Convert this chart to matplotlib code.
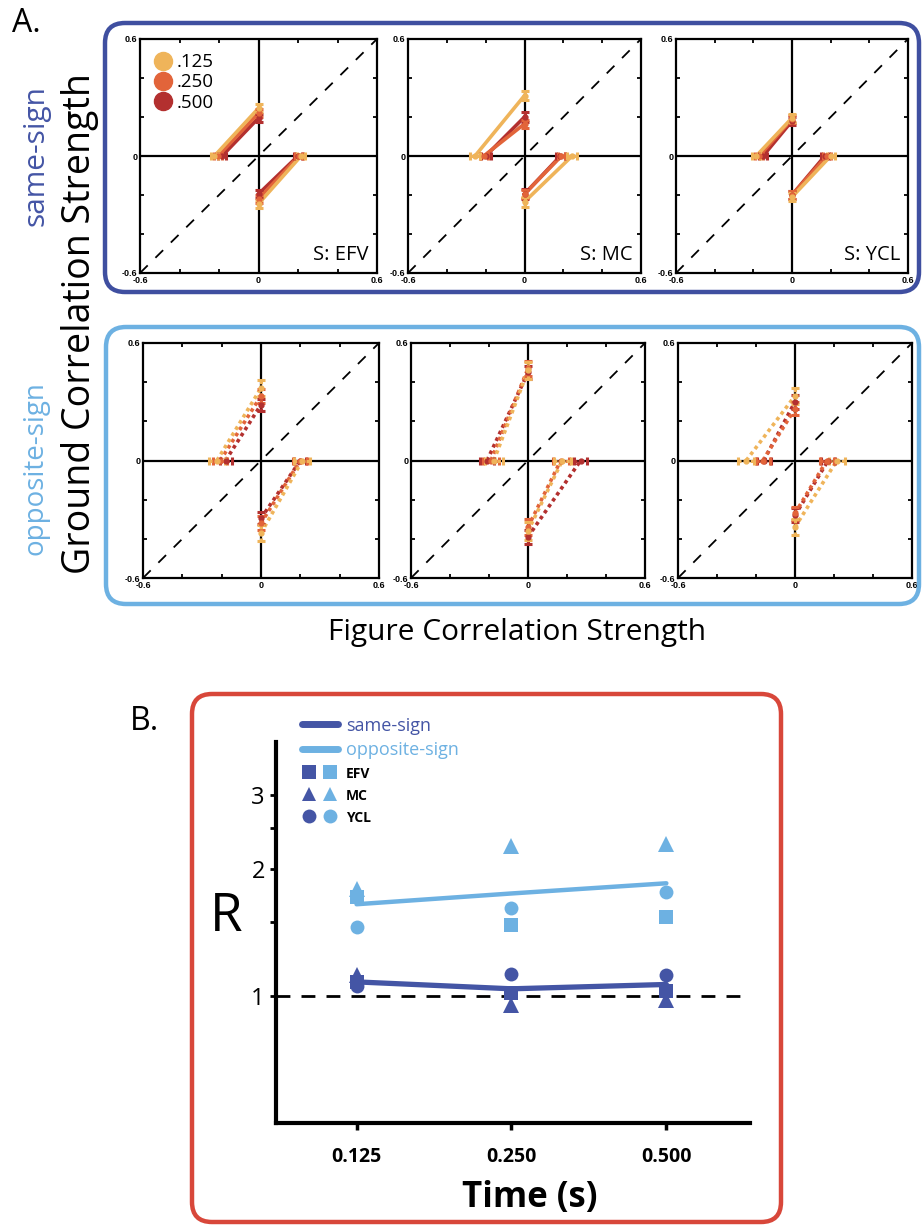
import matplotlib
matplotlib.use("Agg")
import matplotlib.pyplot as plt
from matplotlib.patches import FancyBboxPatch
from matplotlib.lines import Line2D
from matplotlib.legend_handler import HandlerTuple
from matplotlib.ticker import FixedLocator, NullFormatter

# ---------------- data ----------------
subjects = ["EFV", "MC", "YCL"]
durations = [".125", ".250", ".500"]
duration_colors = ["#EFB45A", "#E2643A", "#B3302F"]

# rows: subject, columns: duration
same_left = [[-0.223, -0.205, -0.185], [-0.255, -0.21, -0.20], [-0.185, -0.17, -0.15]]
same_top = [[0.245, 0.22, 0.195], [0.31, 0.165, 0.20], [0.195, 0.19, 0.18]]
same_right = [[0.215, 0.205, 0.20], [0.245, 0.19, 0.185], [0.20, 0.18, 0.17]]
same_bottom = [[-0.245, -0.22, -0.195], [-0.235, -0.195, -0.195], [-0.21, -0.20, -0.20]]
same_err = [[0.02, 0.02, 0.02], [0.025, 0.02, 0.025], [0.02, 0.02, 0.02]]

opp_left = [[-0.224, -0.207, -0.18], [-0.175, -0.19, -0.21], [-0.25, -0.165, -0.16]]
opp_top = [[0.37, 0.33, 0.285], [0.46, 0.47, 0.45], [0.33, 0.265, 0.30]]
opp_right = [[0.21, 0.20, 0.20], [0.176, 0.168, 0.27], [0.215, 0.163, 0.17]]
opp_bottom = [[-0.37, -0.32, -0.295], [-0.36, -0.34, -0.39], [-0.34, -0.27, -0.28]]
opp_err = [[0.04, 0.035, 0.03], [0.045, 0.04, 0.035], [0.04, 0.035, 0.035]]

times = ["0.125", "0.250", "0.500"]
same_R = {"EFV": [1.08, 1.016, 1.03], "MC": [1.12, 0.953, 0.98], "YCL": [1.055, 1.13, 1.12]}
opp_R = {"EFV": [1.72, 1.47, 1.54], "MC": [1.79, 2.27, 2.29], "YCL": [1.46, 1.62, 1.76]}
same_R_mean = [1.08, 1.04, 1.065]
opp_R_mean = [1.65, 1.75, 1.85]
subject_markers = {"EFV": "s", "MC": "^", "YCL": "o"}

DARK_BLUE = "#4455A5"
LIGHT_BLUE = "#6DB1E2"
RED = "#D8473A"

W, H = 923, 1226
fig = plt.figure(figsize=(W / 100, H / 100), dpi=100)
fig.patch.set_facecolor("white")


def rect(x0, y0, x1, y1):
    """pixel box (top-left origin) -> figure fraction rectangle"""
    return [x0 / W, 1 - y1 / H, (x1 - x0) / W, (y1 - y0) / H]


def fx(x):
    return x / W


def fy(y):
    return 1 - y / H


def frame(x0, y0, x1, y1, color, lw=3.2, r=0.2):
    p = FancyBboxPatch(((x0) / 100, (H - y1) / 100), (x1 - x0) / 100, (y1 - y0) / 100,
                       boxstyle=f"round,pad=0,rounding_size={r}", transform=fig.dpi_scale_trans,
                       facecolor="none", edgecolor=color, linewidth=lw, zorder=0)
    fig.patches.append(p)


frame(105, 23, 919, 292, "#3F4FA0")
frame(106, 327, 919, 604, LIGHT_BLUE)
frame(192, 694, 781, 1222, RED)

tick_vals = [-0.6, -0.4, -0.2, 0, 0.2, 0.4, 0.6]
tick_labs = ["-0.6", "", "", "0", "", "", "0.6"]


def corr_panel(ax, left, top, right, bottom, err, dotted):
    ax.set_xlim(-0.6, 0.6)
    ax.set_ylim(-0.6, 0.6)
    ax.axhline(0, color="black", lw=1.6, zorder=1)
    ax.axvline(0, color="black", lw=1.6, zorder=1)
    ax.axline((0, 0), slope=1, color="black", lw=1.3, ls=(0, (6, 6)), zorder=1)
    ls = (0, (1, 1)) if dotted else "-"
    for i in reversed(range(3)):
        c = duration_colors[i]
        ax.plot([left[i], 0], [0, top[i]], color=c, lw=2.6, ls=ls, zorder=2)
        ax.plot([0, right[i]], [bottom[i], 0], color=c, lw=2.6, ls=ls, zorder=2)
        for xs, ys, kw in (([left[i], right[i]], [0, 0], {"xerr": err[i]}),
                           ([0, 0], [top[i], bottom[i]], {"yerr": err[i]})):
            eb = ax.errorbar(xs, ys, fmt="o", ms=3.5, color=c, ecolor=c, elinewidth=2.2,
                             capsize=3, capthick=2.2, zorder=3, **kw)
            if dotted:
                for bl in eb[2]:
                    bl.set_linestyle((0, (1, 1)))
    ax.set_xticks(tick_vals)
    ax.set_xticklabels(tick_labs)
    ax.set_yticks(tick_vals)
    ax.set_yticklabels(tick_labs)
    ax.tick_params(direction="in", top=True, right=True, length=3, width=1.3, pad=2,
                   labelsize=6.5)
    for lab in ax.get_xticklabels() + ax.get_yticklabels():
        lab.set_fontweight("bold")
        lab.set_family("Liberation Sans")
    for s in ax.spines.values():
        s.set_linewidth(1.6)


top_boxes = [(140, 39, 377, 273), (408, 39, 641, 273), (676, 39, 908, 273)]
bot_boxes = [(143, 343, 379, 578), (411, 343, 645, 578), (678, 343, 912, 578)]

for k, subj in enumerate(subjects):
    ax = fig.add_axes(rect(*top_boxes[k]))
    corr_panel(ax, same_left[k], same_top[k], same_right[k], same_bottom[k], same_err[k], False)
    ax.text(0.965, 0.035, f"S: {subj}", transform=ax.transAxes, ha="right", va="bottom",
            fontsize=14.5, family="Open Sans")
    if k == 0:
        handles = [Line2D([], [], ls="none", marker="o", ms=13, color=c) for c in duration_colors]
        ax.legend(handles, durations, loc="upper left", frameon=False,
                  handlelength=0.9, handletextpad=0.3, labelspacing=0.12,
                  borderaxespad=0.45, borderpad=0.3, prop={"family": "Open Sans", "size": 13.5})

    ax2 = fig.add_axes(rect(*bot_boxes[k]))
    corr_panel(ax2, opp_left[k], opp_top[k], opp_right[k], opp_bottom[k], opp_err[k], True)

# panel A labels
fig.text(fx(12), fy(24), "A.", fontsize=23, family="Open Sans", va="center", ha="left")
fig.text(fx(36), fy(155), "same-sign", rotation=90, fontsize=21.5, color="#4455A5",
         family="Open Sans", ha="center", va="center")
fig.text(fx(36), fy(468), "opposite-sign", rotation=90, fontsize=20, color=LIGHT_BLUE,
         family="Open Sans", ha="center", va="center")
fig.text(fx(80), fy(324), "Ground Correlation Strength", rotation=90, fontsize=27,
         family="Open Sans", ha="center", va="center", rotation_mode="anchor")
fig.text(fx(517), fy(633), "Figure Correlation Strength", fontsize=21.5,
         family="Open Sans", ha="center", va="center")

# ---------------- panel B ----------------
fig.text(fx(130), fy(722), "B.", fontsize=23, family="Open Sans", va="center", ha="left")
axb = fig.add_axes(rect(276, 742, 750, 1123))
xpos = [1, 2, 3]
axb.axhline(1, color="black", lw=2, ls=(0, (5, 4)), zorder=1)
axb.plot(xpos, opp_R_mean, color=LIGHT_BLUE, lw=3.2, zorder=2, solid_capstyle="round")
axb.plot(xpos, same_R_mean, color=DARK_BLUE, lw=3.8, zorder=2, solid_capstyle="round")
for subj in subjects:
    m = subject_markers[subj]
    ms = 11 if m == "^" else 10
    axb.plot(xpos, opp_R[subj], ls="none", marker=m, ms=ms, color=LIGHT_BLUE, mew=0, zorder=3)
    axb.plot(xpos, same_R[subj], ls="none", marker=m, ms=ms, color=DARK_BLUE, mew=0, zorder=3)

axb.set_yscale("log")
axb.set_ylim(0.5, 4)
axb.set_xlim(0.48, 3.54)
axb.yaxis.set_major_locator(FixedLocator([1, 2, 3]))
axb.yaxis.set_minor_locator(FixedLocator([1.5, 2.5]))
axb.yaxis.set_minor_formatter(NullFormatter())
axb.set_yticklabels(["1", "2", "3"])
axb.set_xticks(xpos)
axb.set_xticklabels(times)
for s in ("top", "right"):
    axb.spines[s].set_visible(False)
for s in ("left", "bottom"):
    axb.spines[s].set_linewidth(3)
axb.tick_params(axis="y", which="both", length=4, width=2, labelsize=17, pad=4)
axb.tick_params(axis="x", length=5, width=2.5, labelsize=14, pad=12)
for lab in axb.get_yticklabels():
    lab.set_family("Open Sans")
for lab in axb.get_xticklabels():
    lab.set_fontweight("bold")
    lab.set_family("Open Sans")
axb.set_xlabel("Time (s)", fontsize=25, fontweight="bold", family="Open Sans", labelpad=10)
axb.xaxis.set_label_coords(0.535, -0.15)
axb.set_ylabel("R", fontsize=38, family="Open Sans", rotation=0, va="center", ha="center")
axb.yaxis.set_label_coords(-0.105, 0.54)

leg_handles = [
    Line2D([], [], color=DARK_BLUE, lw=5, solid_capstyle="round"),
    Line2D([], [], color=LIGHT_BLUE, lw=5, solid_capstyle="round"),
]
for subj in subjects:
    m = subject_markers[subj]
    leg_handles.append((Line2D([], [], ls="none", marker=m, ms=10, color=DARK_BLUE, mew=0),
                        Line2D([], [], ls="none", marker=m, ms=10, color=LIGHT_BLUE, mew=0)))
leg_labels = ["same-sign", "opposite-sign"] + subjects
leg = axb.legend(leg_handles, leg_labels, loc="upper left", bbox_to_anchor=(0.035, 1.09),
                 frameon=False, handlelength=2.0, handletextpad=0.45, labelspacing=0.35,
                 borderpad=0, prop={"family": "Open Sans", "size": 13},
                 handler_map={tuple: HandlerTuple(ndivide=None, pad=0.3)})
texts = leg.get_texts()
texts[0].set_color(DARK_BLUE)
texts[1].set_color(LIGHT_BLUE)
for t in texts[2:]:
    t.set_fontsize(10)
    t.set_fontweight("bold")

fig.savefig("out.png", dpi=100, facecolor="white")
